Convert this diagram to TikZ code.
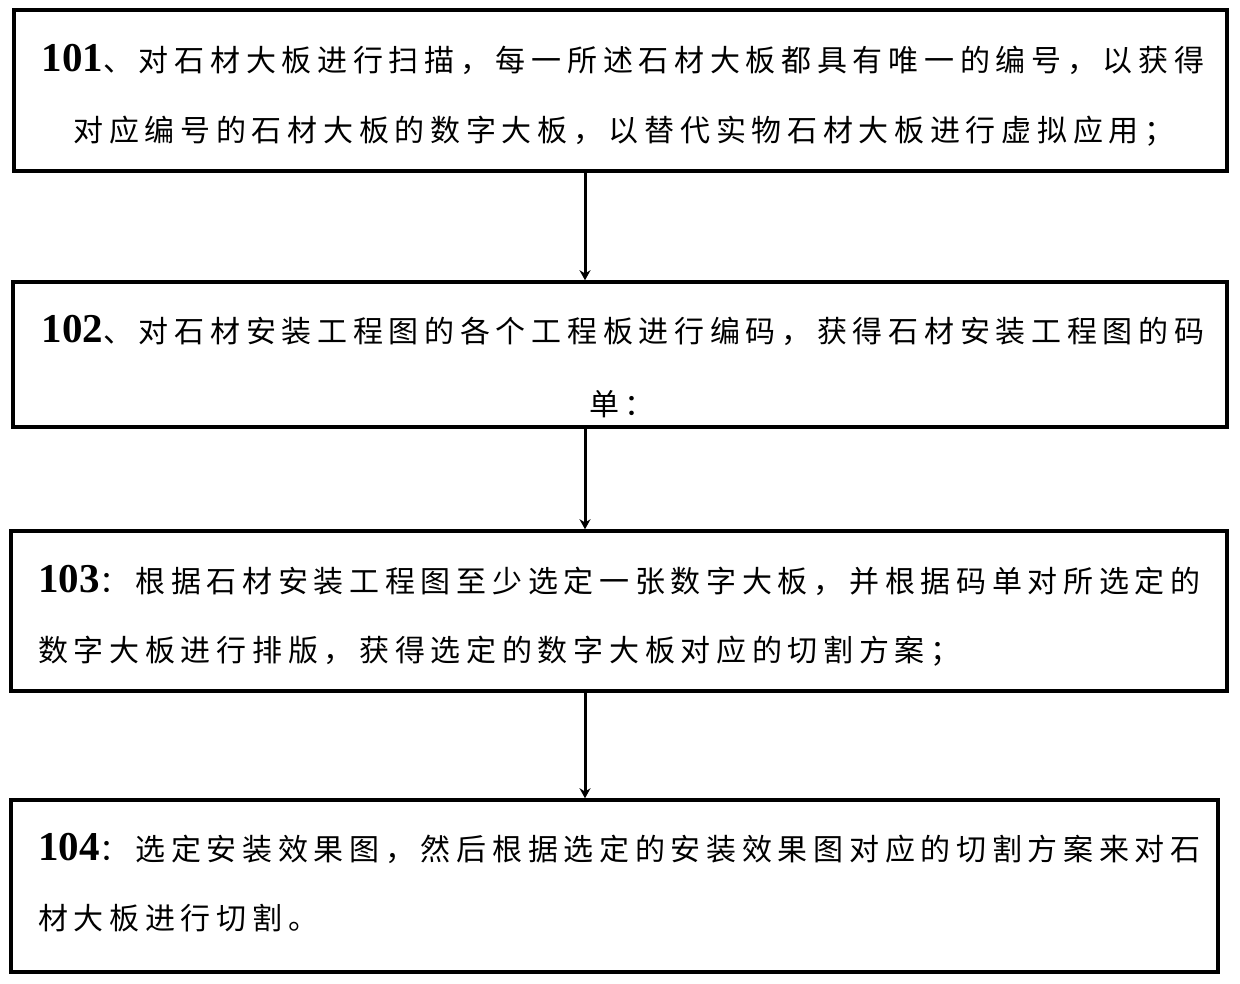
\documentclass[tikz,border=0pt]{standalone}
\usepackage{fontspec}
\usetikzlibrary{arrows.meta}
\newfontfamily\cjkf[LetterSpace=19]{Noto Sans CJK SC}
\newfontfamily\numf{Liberation Serif}
\newcommand{\stepno}[1]{{\numf\bfseries\fontsize{41}{41}\selectfont #1}}
\tikzset{
  stepbox/.style={draw=black, line width=3.5pt, inner sep=0pt},
  txt/.style={inner sep=0pt, font=\cjkf\fontsize{30}{30}\selectfont},
  flow/.style={line width=3pt, -{Stealth[length=10pt,width=11pt]}}
}
\begin{document}
\begin{tikzpicture}[x=1pt,y=-1pt]
\useasboundingbox (0,0) rectangle (1240,983);
% boxes
\node[stepbox, minimum width=1213pt, minimum height=161pt] (b1) at (620.5,90.5) {};
\node[stepbox, minimum width=1214pt, minimum height=145pt] (b2) at (620,354.5) {};
\node[stepbox, minimum width=1216pt, minimum height=160pt] (b3) at (619,611) {};
\node[stepbox, minimum width=1207pt, minimum height=172pt] (b4) at (614.5,886) {};
% texts
\node[txt, anchor=center] (t1a) at (623,59) {\stepno{101}、对石材大板进行扫描，每一所述石材大板都具有唯一的编号，以获得};
\node[txt, anchor=center] (t1b) at (624,131) {对应编号的石材大板的数字大板，以替代实物石材大板进行虚拟应用；};
\node[txt, anchor=center] (t2a) at (623,330) {\stepno{102}、对石材安装工程图的各个工程板进行编码，获得石材安装工程图的码};
\node[txt, anchor=center] (t2b) at (622,404) {单：};
\node[txt, anchor=west] (t3a) at (38,580) {\stepno{103}：根据石材安装工程图至少选定一张数字大板，并根据码单对所选定的};
\node[txt, anchor=west] (t3b) at (38,651) {数字大板进行排版，获得选定的数字大板对应的切割方案；};
\node[txt, anchor=west] (t4a) at (38,848) {\stepno{104}：选定安装效果图，然后根据选定的安装效果图对应的切割方案来对石};
\node[txt, anchor=west] (t4b) at (38,918) {材大板进行切割。};
% arrows
\draw[flow] (b1.south -| 585,0) -- (b2.north -| 585,0);
\draw[flow] (b2.south -| 585,0) -- (b3.north -| 585,0);
\draw[flow] (b3.south -| 585,0) -- (b4.north -| 585,0);
\end{tikzpicture}
\end{document}
